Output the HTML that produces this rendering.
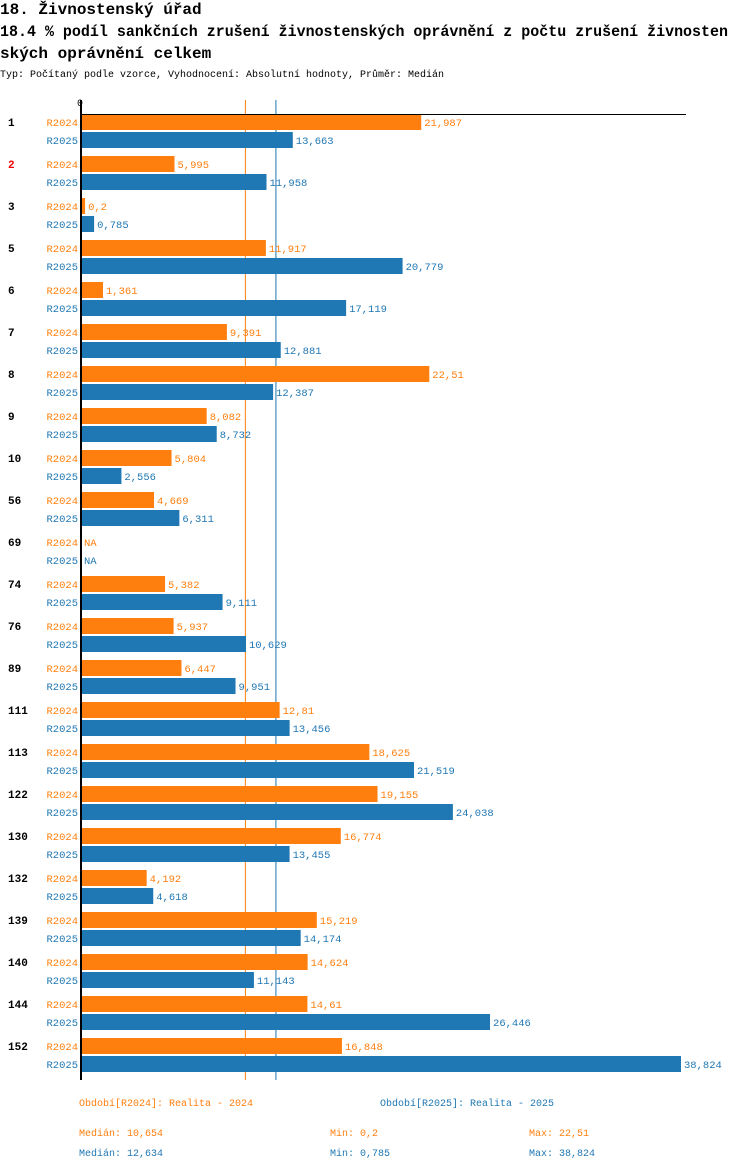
<!DOCTYPE html>
<html><head><meta charset="utf-8">
<style>
body{margin:0;background:#fff;width:750px;height:1170px;overflow:hidden;font-family:"Liberation Mono","DejaVu Sans Mono",monospace;}
svg text{font-family:"Liberation Mono","DejaVu Sans Mono",monospace;}
</style></head><body>
<svg id="chart" width="750" height="1170" xmlns="http://www.w3.org/2000/svg">
<text x="0" y="14" font-size="16" font-weight="bold" fill="#000">18. Živnostenský úřad</text>
<text x="0" y="36" font-size="16" font-weight="bold" fill="#000" textLength="728" lengthAdjust="spacingAndGlyphs">18.4 % podíl sankčních zrušení živnostenských oprávnění z počtu zrušení živnosten</text>
<text x="0" y="58" font-size="16" font-weight="bold" fill="#000">ských oprávnění  celkem</text>
<text x="0" y="77" font-size="10" fill="#000" textLength="444" lengthAdjust="spacingAndGlyphs">Typ: Počítaný podle vzorce, Vyhodnocení: Absolutní hodnoty, Průměr: Medián</text>
<g id="plot"></g>
</svg>
<script>
const categories=["1","2","3","5","6","7","8","9","10","56","69","74","76","89","111","113","122","130","132","139","140","144","152"];
const r2024=[21.987,5.995,0.2,11.917,1.361,9.391,22.51,8.082,5.804,4.669,null,5.382,5.937,6.447,12.81,18.625,19.155,16.774,4.192,15.219,14.624,14.61,16.848];
const r2025=[13.663,11.958,0.785,20.779,17.119,12.881,12.387,8.732,2.556,6.311,null,9.111,10.629,9.951,13.456,21.519,24.038,13.455,4.618,14.174,11.143,26.446,38.824];
const medians=[10.654,12.634];
const mins=["0,2","0,785"];
const maxs=["22,51","38,824"];
const O="#ff7f0e",B="#1f77b4";
const NS="http://www.w3.org/2000/svg";
const g=document.getElementById('plot');
const x0=82, scale=599/38.824;
const xs=v=>x0+v*scale;
const fmt=v=>String(v).replace('.',',');
function el(t,a,txt){const e=document.createElementNS(NS,t);for(const k in a)e.setAttribute(k,a[k]);if(txt!==undefined)e.textContent=txt;g.appendChild(e);return e;}
let m1=el('line',{x1:xs(medians[0])-1,x2:xs(medians[0])-1,y1:100,y2:1080,stroke:O,'stroke-width':1});


let m2=el('line',{x1:xs(medians[1])-1,x2:xs(medians[1])-1,y1:100,y2:1080,stroke:B,'stroke-width':1});


categories.forEach((c,i)=>{
  const yo=114+42*i, yb=132+42*i;
  let cl=el('text',{x:8,y:yo+12,'font-size':11,'font-weight':'bold',fill:c==="2"?"#e00":"#000"},c);
  
  
  [[r2024[i],yo,O,'R2024'],[r2025[i],yb,B,'R2025']].forEach(([v,y,col,s])=>{
    let sl=el('text',{x:78,y:y+12,'font-size':10.5,fill:col,'text-anchor':'end'},s);
    
    
    if(v===null){
      let na=el('text',{x:84,y:y+12,'font-size':10.5,fill:col},'NA');
      
      
      return;
    }
    let r=el('rect',{x:x0,y:y,width:Math.max(1,xs(v)-x0),height:16,fill:col});
    
    
    let vl=el('text',{x:xs(v)+3,y:y+12,'font-size':10.5,fill:col},fmt(v));
    
    
  });
});
let ax=el('line',{x1:81,x2:81,y1:100,y2:1080,stroke:'#000','stroke-width':2});


let tx=el('line',{x1:80,x2:686,y1:114.5,y2:114.5,stroke:'#000','stroke-width':1});


let z=el('text',{x:80,y:106,'font-size':10,fill:'#000','text-anchor':'middle'},'0');


const leg=[["Období[R2024]: Realita - 2024",79,1106,O],["Období[R2025]: Realita - 2025",380,1106,B],
["Medián: "+fmt(medians[0]),79,1136,O],["Min: "+mins[0],330,1136,O],["Max: "+maxs[0],529,1136,O],
["Medián: "+fmt(medians[1]),79,1156,B],["Min: "+mins[1],330,1156,B],["Max: "+maxs[1],529,1156,B]];
leg.forEach(([t,x,y,col])=>{
  let l=el('text',{x:x,y:y,'font-size':10,fill:col},t);
  
  
});
</script>
</body></html>
